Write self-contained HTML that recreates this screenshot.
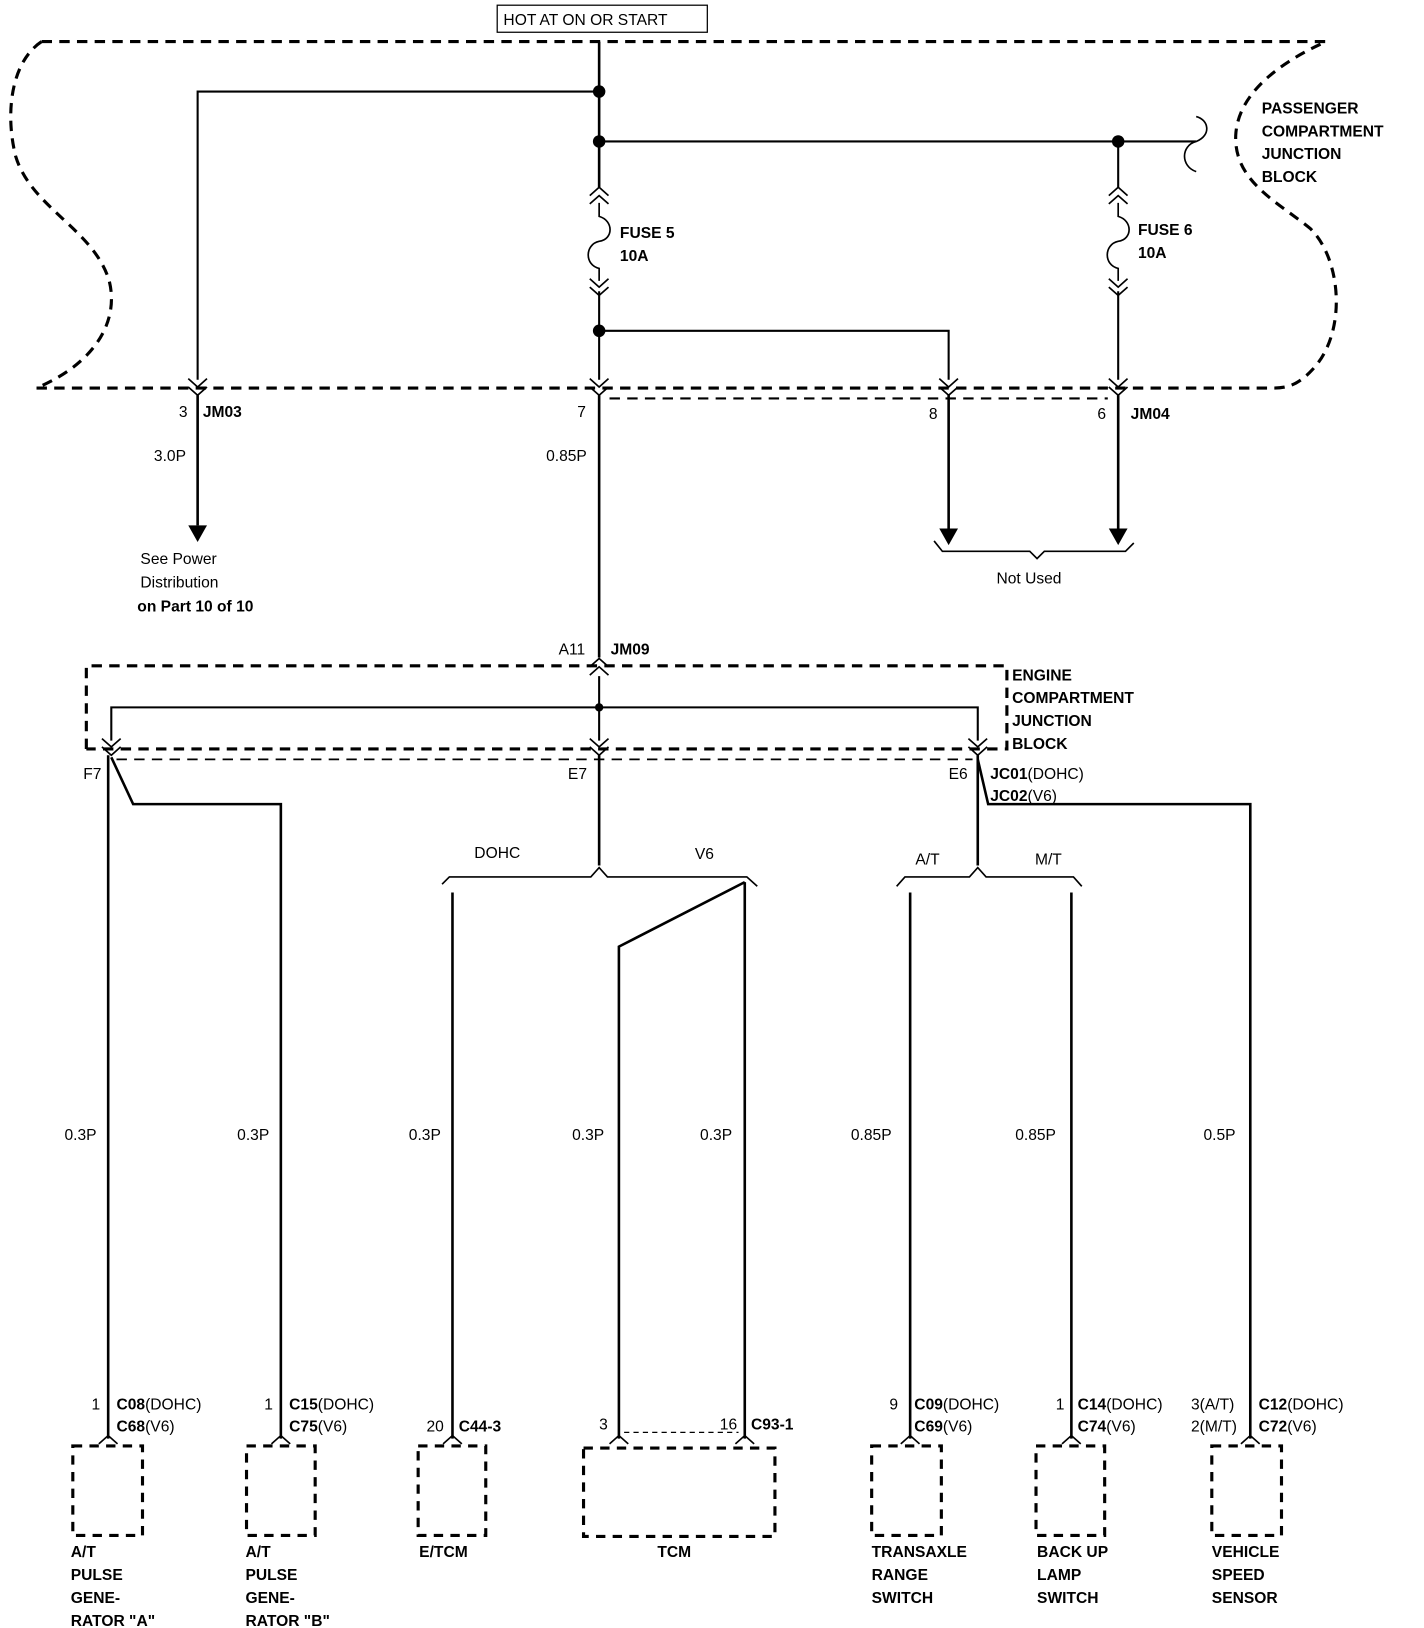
<!DOCTYPE html>
<html><head><meta charset="utf-8"><style>
html,body{margin:0;padding:0;background:#fff;}
svg{display:block}
text{font-family:"Liberation Sans",Arial,sans-serif;font-size:15px;fill:#000}
.b{font-weight:bold}
</style></head><body>
<svg width="1424" height="1628" viewBox="0 0 1369 1565" preserveAspectRatio="none" xmlns="http://www.w3.org/2000/svg">
<defs>
<g id="dn"><path d="M-9,-10 L0,-2 L9,-10 M-9,-2 L0,6 L9,-2" fill="none" stroke="#000" stroke-width="1.6"/></g>
<g id="up"><path d="M-9,8 L0,0 L9,8 M-9,16 L0,8 L9,16" fill="none" stroke="#000" stroke-width="1.6"/></g>
<g id="pin"><path d="M-9,8 L0,0 L9,8" fill="none" stroke="#000" stroke-width="1.6"/></g>
</defs>
<rect x="478" y="5" width="202" height="26" fill="none" stroke="#000" stroke-width="1.2"/>
<text x="484" y="24">HOT AT ON OR START</text>
<g fill="none" stroke="#000" stroke-width="3" stroke-dasharray="10,7">
<path d="M40,40 L1275,40 C1230,60 1190,90 1188,130 C1186,175 1230,195 1260,220 C1290,250 1295,320 1262,355 C1250,368 1240,373 1225,373 L35,373"/>
<path d="M40,40 C10,60 5,110 15,150 C30,200 90,220 105,270 C115,310 90,350 35,373"/>
<path d="M586,383 L1065,383" stroke-width="2"/>
</g>
<g fill="none" stroke="#000" stroke-width="2.5">
<path d="M576,40 L576,180"/>
<path d="M576,280 L576,365" stroke-width="2"/>
<path d="M576,380 L576,632"/>
<path d="M576,88 L190,88 L190,365" stroke-width="2"/>
<path d="M190,380 L190,505"/>
<path d="M576,136 L1150,136" stroke-width="2"/>
<path d="M1150,136 C1165,130 1162,115 1150,112 M1150,136 C1135,140 1135,160 1150,165" stroke-width="1.6"/>
<path d="M1075,136 L1075,180" stroke-width="2"/>
<path d="M1075,280 L1075,365" stroke-width="2"/>
<path d="M1075,380 L1075,510"/>
<path d="M576,318 L912,318 L912,365" stroke-width="2"/>
<path d="M912,380 L912,510"/>
<path d="M576,195 L576,208 C590,212 590,230 576,232 C562,235 562,255 576,258 L576,270" stroke-width="1.6"/>
<path d="M1075,195 L1075,208 C1089,212 1089,230 1075,232 C1061,235 1061,255 1075,258 L1075,270" stroke-width="1.6"/>
<path d="M898,520 L906,530 L990,530 L997,537 L1004,530 L1082,530 L1090,522" stroke-width="1.6"/>
</g>
<use href="#up" x="576" y="180"/><use href="#dn" x="576" y="278"/>
<use href="#up" x="1075" y="180"/><use href="#dn" x="1075" y="278"/>
<use href="#dn" x="190" y="374"/><use href="#dn" x="576" y="374"/><use href="#dn" x="912" y="374"/><use href="#dn" x="1075" y="374"/>
<g fill="#000">
<circle cx="576" cy="88" r="6"/><circle cx="576" cy="136" r="6"/><circle cx="576" cy="318" r="6"/><circle cx="1075" cy="136" r="6"/>
<polygon points="181,505 199,505 190,521"/><polygon points="903,508 921,508 912,524"/><polygon points="1066,508 1084,508 1075,524"/>
<circle cx="576" cy="680" r="4"/>
</g>
<text class="b" x="596" y="229">FUSE 5</text><text class="b" x="596" y="251">10A</text>
<text class="b" x="1094" y="226">FUSE 6</text><text class="b" x="1094" y="248">10A</text>
<text class="b" x="1213" y="109">PASSENGER</text><text class="b" x="1213" y="131">COMPARTMENT</text><text class="b" x="1213" y="153">JUNCTION</text><text class="b" x="1213" y="175">BLOCK</text>
<text x="172" y="401">3</text><text class="b" x="195" y="401">JM03</text>
<text x="148" y="443">3.0P</text>
<text x="555" y="401">7</text><text x="525" y="443">0.85P</text>
<text x="893" y="403">8</text><text x="1055" y="403">6</text><text class="b" x="1087" y="403">JM04</text>
<text x="135" y="542">See Power</text><text x="135" y="565">Distribution</text><text class="b" x="132" y="588">on Part 10 of 10</text>
<text x="958" y="561">Not Used</text>
<text x="537" y="629">A11</text><text class="b" x="587" y="629">JM09</text>
<use href="#up" x="576" y="633"/>
<g fill="none" stroke="#000" stroke-width="3" stroke-dasharray="10,7">
<path d="M83,720 L83,640 L968,640 L968,720 L83,720"/>
<path d="M112,730 L935,730" stroke-width="1.6"/>
</g>
<text class="b" x="973" y="654">ENGINE</text><text class="b" x="973" y="676">COMPARTMENT</text><text class="b" x="973" y="698">JUNCTION</text><text class="b" x="973" y="720">BLOCK</text>
<g fill="none" stroke="#000" stroke-width="2.5">
<path d="M576,650 L576,712" stroke-width="2"/>
<path d="M107,712 L107,680 L940,680 L940,712" stroke-width="2"/>
<path d="M104,726 L104,1383"/>
<path d="M107,728 L128,773 L270,773 L270,1383"/>
<path d="M576,726 L576,832"/>
<path d="M425,850 L432,843 L568,843 L576,834 L584,843 L718,843 L728,852" stroke-width="1.6"/>
<path d="M435,858 L435,1383"/>
<path d="M716,848 L716,1383"/>
<path d="M716,848 L595,910 L595,1383"/>
<path d="M940,726 L940,832"/>
<path d="M862,852 L870,843 L932,843 L940,834 L948,843 L1032,843 L1040,852" stroke-width="1.6"/>
<path d="M875,858 L875,1383"/>
<path d="M1030,858 L1030,1383"/>
<path d="M940,730 L950,773 L1202,773 L1202,1383"/>
<path d="M600,1377 L710,1377" stroke-width="1.2" stroke-dasharray="5,4"/>
</g>
<use href="#dn" x="107" y="720"/><use href="#dn" x="576" y="720"/><use href="#dn" x="940" y="720"/>
<text x="80" y="749">F7</text><text x="546" y="749">E7</text><text x="912" y="749">E6</text>
<text x="952" y="749"><tspan class="b">JC01</tspan>(DOHC)</text><text x="952" y="770"><tspan class="b">JC02</tspan>(V6)</text>
<text x="456" y="825">DOHC</text><text x="668" y="826">V6</text>
<text x="880" y="831">A/T</text><text x="995" y="831">M/T</text>
<text x="62" y="1096">0.3P</text><text x="228" y="1096">0.3P</text><text x="393" y="1096">0.3P</text><text x="550" y="1096">0.3P</text><text x="673" y="1096">0.3P</text>
<text x="818" y="1096">0.85P</text><text x="976" y="1096">0.85P</text><text x="1157" y="1096">0.5P</text>
<use href="#pin" x="104" y="1380"/><use href="#pin" x="270" y="1380"/><use href="#pin" x="435" y="1380"/><use href="#pin" x="595" y="1380"/><use href="#pin" x="716" y="1380"/><use href="#pin" x="875" y="1380"/><use href="#pin" x="1030" y="1380"/><use href="#pin" x="1202" y="1380"/>
<text x="88" y="1355">1</text><text x="112" y="1355"><tspan class="b">C08</tspan>(DOHC)</text><text x="112" y="1376"><tspan class="b">C68</tspan>(V6)</text>
<text x="254" y="1355">1</text><text x="278" y="1355"><tspan class="b">C15</tspan>(DOHC)</text><text x="278" y="1376"><tspan class="b">C75</tspan>(V6)</text>
<text x="410" y="1376">20</text><text class="b" x="441" y="1376">C44-3</text>
<text x="576" y="1374">3</text><text x="692" y="1374">16</text><text class="b" x="722" y="1374">C93-1</text>
<text x="855" y="1355">9</text><text x="879" y="1355"><tspan class="b">C09</tspan>(DOHC)</text><text x="879" y="1376"><tspan class="b">C69</tspan>(V6)</text>
<text x="1015" y="1355">1</text><text x="1036" y="1355"><tspan class="b">C14</tspan>(DOHC)</text><text x="1036" y="1376"><tspan class="b">C74</tspan>(V6)</text>
<text x="1145" y="1355">3(A/T)</text><text x="1145" y="1376">2(M/T)</text><text x="1210" y="1355"><tspan class="b">C12</tspan>(DOHC)</text><text x="1210" y="1376"><tspan class="b">C72</tspan>(V6)</text>
<g fill="none" stroke="#000" stroke-width="3" stroke-dasharray="9,7">
<rect x="70" y="1390" width="67" height="86"/>
<rect x="237" y="1390" width="66" height="86"/>
<rect x="402" y="1390" width="65" height="86"/>
<rect x="561" y="1392" width="184" height="85"/>
<rect x="838" y="1390" width="67" height="86"/>
<rect x="996" y="1390" width="66" height="86"/>
<rect x="1165" y="1390" width="67" height="86"/>
</g>
<text class="b" x="68" y="1497">A/T</text><text class="b" x="68" y="1519">PULSE</text><text class="b" x="68" y="1541">GENE-</text><text class="b" x="68" y="1563">RATOR "A"</text>
<text class="b" x="236" y="1497">A/T</text><text class="b" x="236" y="1519">PULSE</text><text class="b" x="236" y="1541">GENE-</text><text class="b" x="236" y="1563">RATOR "B"</text>
<text class="b" x="403" y="1497">E/TCM</text>
<text class="b" x="632" y="1497">TCM</text>
<text class="b" x="838" y="1497">TRANSAXLE</text><text class="b" x="838" y="1519">RANGE</text><text class="b" x="838" y="1541">SWITCH</text>
<text class="b" x="997" y="1497">BACK UP</text><text class="b" x="997" y="1519">LAMP</text><text class="b" x="997" y="1541">SWITCH</text>
<text class="b" x="1165" y="1497">VEHICLE</text><text class="b" x="1165" y="1519">SPEED</text><text class="b" x="1165" y="1541">SENSOR</text>
</svg>
</body></html>
